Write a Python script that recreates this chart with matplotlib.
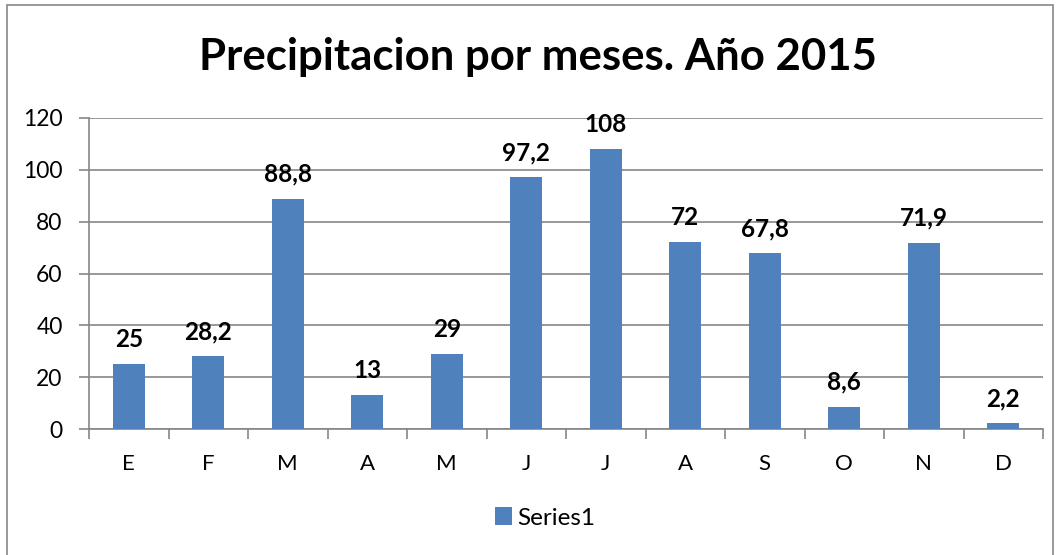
import matplotlib.pyplot as plt
from matplotlib.patches import Rectangle

months = ["E", "F", "M", "A", "M", "J", "J", "A", "S", "O", "N", "D"]
rain = [25, 28.2, 88.8, 13, 29, 97.2, 108, 72, 67.8, 8.6, 71.9, 2.2]
labels = ["25", "28,2", "88,8", "13", "29", "97,2", "108", "72", "67,8", "8,6", "71,9", "2,2"]

plt.rcParams['font.family'] = ['Lato', 'DejaVu Sans']

W, H = 1063, 555
fig = plt.figure(figsize=(W / 100, H / 100), dpi=100)
ax = fig.add_axes([89 / W, 1 - 429 / H, (1043 - 89) / W, (429 - 118) / H])

blue = "#4f81bd"
grid = "#868686"
x = list(range(len(months)))
ax.bar(x, rain, width=0.4, color=blue, zorder=3, label="Series1")
for xi, v, t in zip(x, rain, labels):
    ax.text(xi, v + 5, t, ha="center", va="bottom", fontsize=17.5, fontweight="bold")

ax.set_xlim(-0.5, 11.5)
ax.set_ylim(0, 120)
ax.set_yticks(range(0, 121, 20))
ax.yaxis.grid(True, color=grid, linewidth=1.2, zorder=0)
ax.set_xticks(x)
ax.set_xticklabels(months)
ax.set_xticks([i - 0.5 for i in range(13)], minor=True)
ax.tick_params(axis="x", which="major", length=0, labelsize=16, pad=18)
ax.tick_params(axis="x", which="minor", length=7, color=grid, width=1.2)
ax.tick_params(axis="y", length=7, color=grid, width=1.2, labelsize=16.5, pad=12)
for s in ["top", "right"]:
    ax.spines[s].set_visible(False)
for s in ["left", "bottom"]:
    ax.spines[s].set_color(grid)
    ax.spines[s].set_linewidth(1.2)

fig.text(538 / W, 1 - 57 / H, "Precipitacion por meses. Año 2015", ha="center", va="center",
         fontsize=31.5, fontweight="bold")

fig.legend(loc="center", bbox_to_anchor=(545 / W, 1 - 518 / H), frameon=False,
           fontsize=17.5, handlelength=0.7, handleheight=0.7, handletextpad=0.2)

fig.patches.append(Rectangle((7 / W, -0.01), (1053 - 7) / W, 1 - 5 / H + 0.01,
                             transform=fig.transFigure, fill=False, edgecolor=grid, linewidth=1.2))

fig.savefig("out.png", dpi=100)
